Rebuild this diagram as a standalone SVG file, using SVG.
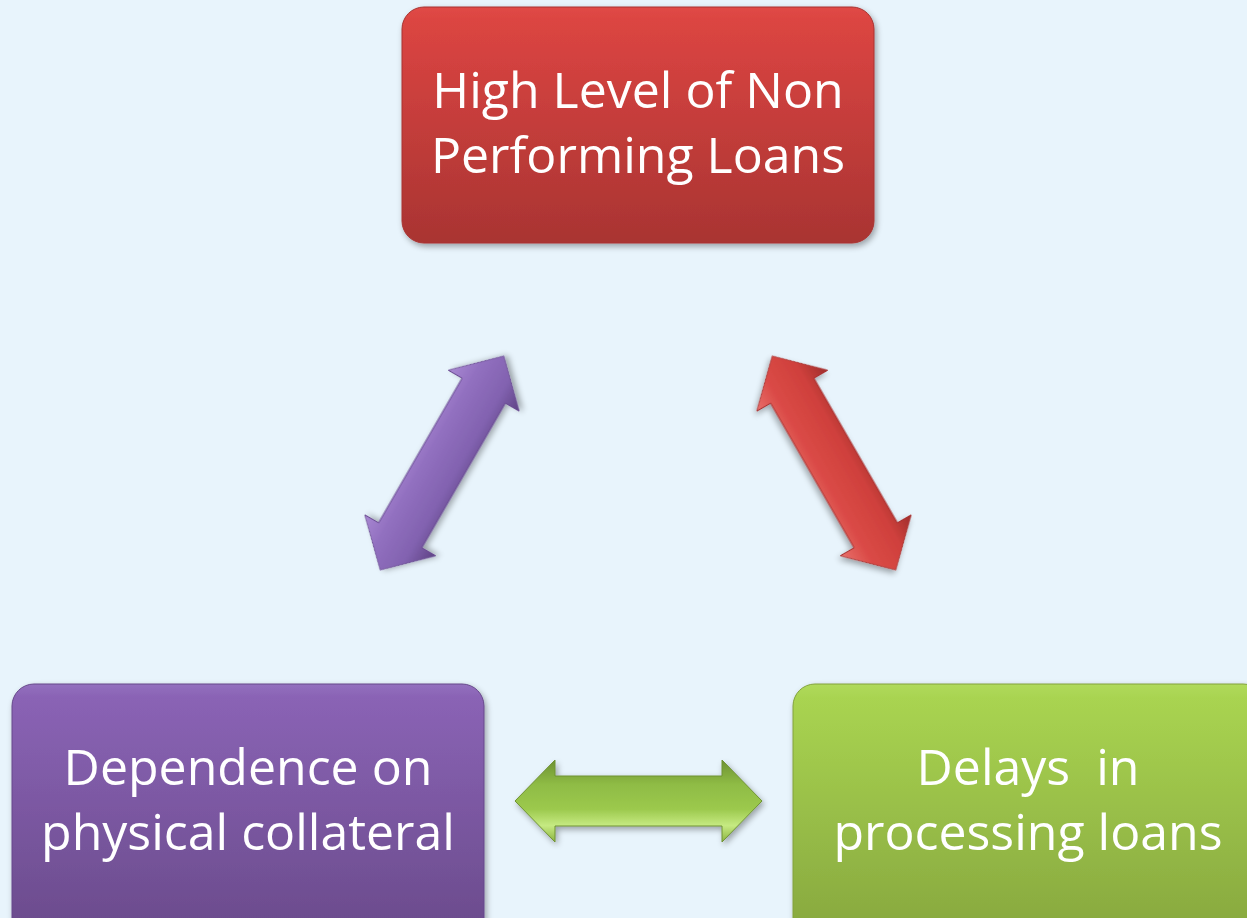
<svg xmlns="http://www.w3.org/2000/svg" width="1247" height="918" viewBox="0 0 1247 918">
<defs>
<style>
.lbl{font-family:"Open Sans","Noto Sans","DejaVu Sans",sans-serif;font-size:50px;fill:#ffffff;text-anchor:middle}
</style>
<filter id="sh" x="-20%" y="-20%" width="140%" height="140%">
<feGaussianBlur in="SourceAlpha" stdDeviation="3"/>
<feOffset dx="2" dy="3" result="b"/>
<feComponentTransfer><feFuncA type="linear" slope="0.35"/></feComponentTransfer>
<feMerge><feMergeNode/><feMergeNode in="SourceGraphic"/></feMerge>
</filter>
<linearGradient id="gRed" x1="0" y1="0" x2="0" y2="1">
<stop offset="0" stop-color="#E04946"/><stop offset="0.05" stop-color="#DC4542"/><stop offset="1" stop-color="#A93432"/>
</linearGradient>
<linearGradient id="gPur" x1="0" y1="0" x2="0" y2="1">
<stop offset="0" stop-color="#9370BE"/><stop offset="0.05" stop-color="#8A63B5"/><stop offset="1" stop-color="#694A8A"/>
</linearGradient>
<linearGradient id="gGrn" x1="0" y1="0" x2="0" y2="1">
<stop offset="0" stop-color="#B0DA5C"/><stop offset="0.05" stop-color="#A9D451"/><stop offset="1" stop-color="#86A63E"/>
</linearGradient>
<linearGradient id="aPur" gradientUnits="userSpaceOnUse" x1="0" y1="-41" x2="0" y2="41">
<stop offset="0" stop-color="#A888D2"/><stop offset="0.3" stop-color="#9270C0"/><stop offset="0.7" stop-color="#8262B0"/><stop offset="1" stop-color="#5E4284"/>
</linearGradient>
<linearGradient id="aRed" gradientUnits="userSpaceOnUse" x1="0" y1="41" x2="0" y2="-41">
<stop offset="0" stop-color="#E8706C"/><stop offset="0.3" stop-color="#DA4A46"/><stop offset="0.7" stop-color="#CF403C"/><stop offset="1" stop-color="#9E2E2C"/>
</linearGradient>
<linearGradient id="aGrn" gradientUnits="userSpaceOnUse" x1="0" y1="-41" x2="0" y2="41">
<stop offset="0" stop-color="#6E9232"/><stop offset="0.3" stop-color="#8FBC45"/><stop offset="0.6" stop-color="#9CC94D"/><stop offset="0.8" stop-color="#C6EA82"/><stop offset="1" stop-color="#8CB440"/>
</linearGradient>
<path id="dbl" d="M -123.5 0 L -83.5 -41 L -83.5 -25 L 83.5 -25 L 83.5 -41 L 123.5 0 L 83.5 41 L 83.5 25 L -83.5 25 L -83.5 41 Z"/>
</defs>
<rect x="0" y="0" width="1247" height="918" fill="#E8F4FC"/>
<g id="connectors">
<g id="arrow-purple" transform="translate(442,463) rotate(-60)" filter="url(#sh)">
<use href="#dbl" fill="url(#aPur)" stroke="#6A4C92" stroke-width="1"/>
</g>
<g id="arrow-red" transform="translate(834,463) rotate(60)" filter="url(#sh)">
<use href="#dbl" fill="url(#aRed)" stroke="#A83230" stroke-width="1"/>
</g>
<g id="arrow-green" transform="translate(638.5,801)" filter="url(#sh)">
<use href="#dbl" fill="url(#aGrn)" stroke="#6E9232" stroke-width="1"/>
</g>
</g>
<g id="node-npl" filter="url(#sh)">
<rect x="402" y="7" width="472" height="236" rx="22" fill="url(#gRed)" stroke="#A83230" stroke-width="1"/>
<text class="lbl" x="638" y="108">High Level of Non</text>
<text class="lbl" x="638" y="173">Performing Loans</text>
</g>
<g id="node-collateral" filter="url(#sh)">
<rect x="12" y="684" width="472" height="260" rx="22" fill="url(#gPur)" stroke="#66488A" stroke-width="1"/>
<text class="lbl" x="248" y="785">Dependence on</text>
<text class="lbl" x="248" y="850">physical collateral</text>
</g>
<g id="node-delays" filter="url(#sh)">
<rect x="793" y="684" width="472" height="260" rx="22" fill="url(#gGrn)" stroke="#82A23C" stroke-width="1"/>
<text class="lbl" x="1028" y="785" xml:space="preserve">Delays  in</text>
<text class="lbl" x="1028" y="850">processing loans</text>
</g>
</svg>
